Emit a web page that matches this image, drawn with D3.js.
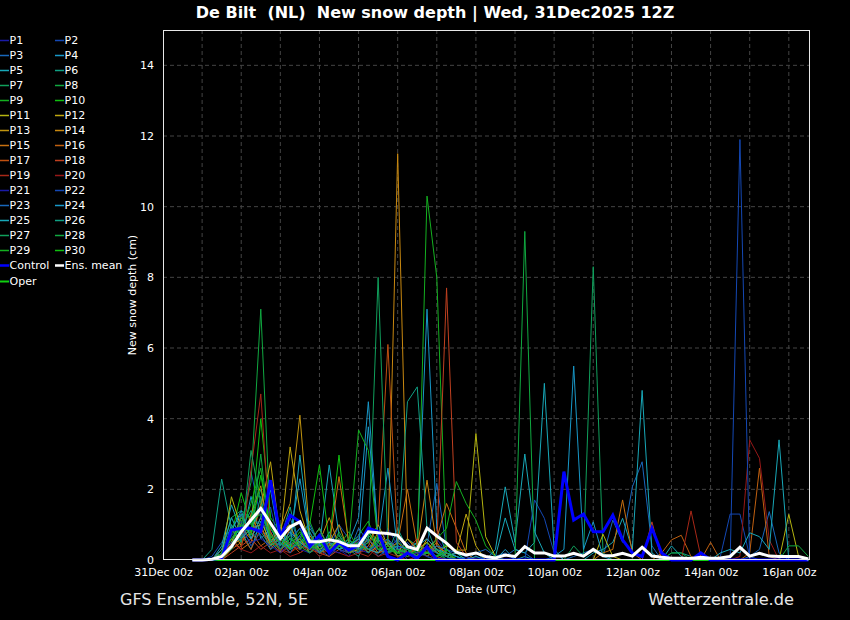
<!DOCTYPE html>
<html lang="en">
<head>
<meta charset="UTF-8">
<title>De Bilt New snow depth</title>
<script src="https://d3js.org/d3.v7.min.js"></script>
<style>
  html, body { margin: 0; padding: 0; background: #000; }
  svg { display: block; font-family: "DejaVu Sans", sans-serif; }
  .grid line { stroke: #444; stroke-dasharray: 4,3; }
  .legend text { fill: #fff; font-size: 11px; }
</style>
</head>
<body>
<script>
// forecast steps, hours after 31Dec 00z
const hours = [
  18, 24, 30, 36, 42, 48, 54, 60, 66, 72, 78, 84, 90, 96, 102, 108,
  114, 120, 126, 132, 138, 144, 150, 156, 162, 168, 174, 180, 186, 192, 198, 204,
  210, 216, 222, 228, 234, 240, 246, 252, 258, 264, 270, 276, 282, 288, 294, 300,
  306, 312, 318, 324, 330, 336, 342, 348, 354, 360, 366, 372, 378, 384, 390, 396
];

const xTickHours = [0, 48, 96, 144, 192, 240, 288, 336, 384];
const xTickLabels = ["31Dec 00z", "02Jan 00z", "04Jan 00z", "06Jan 00z", "08Jan 00z",
                     "10Jan 00z", "12Jan 00z", "14Jan 00z", "16Jan 00z"];
const yTicks = [0, 2, 4, 6, 8, 10, 12, 14];

// new snow depth (cm), members P1..P30
const p01 = [0,0,0,0.2,0.6,1.1,0.9,1.4, 0.8,0.3,0.6,0.9,0.4,0.2,0.5,0.3, 0.1,0.6,0.3,0.2,0.9,0.4,0,0.1, 0.3,0.6,0.2,0,0,0.1,0,0, 0,0,0,0,0,0,0,0, 0,0,0,0,0,0,0,0, 0,0,0,0,0,0,0,0, 0,0,0,0,0,0,0,0];
const p02 = [0,0,0.1,0.5,0.9,0.7,2.5,1.2, 0.6,1.0,0.4,0.7,0.2,0.5,0.3,1.0, 0.6,0.2,0.4,0.3,0.1,0,0.2,0.5, 0.2,0.1,0,0,0,0,0,0, 0,0,0,0,0,0,0,0, 0,0,0,0,0,0,0,0, 0,0,0,0,0,0,0.1,1.3, 1.3,0.1,0,0,0,0,0,0];
const p03 = [0,0,0,0.3,0.4,1.3,0.6,0.9, 0.5,0.2,1.2,0.4,0.8,0.3,0.1,0.4, 0.2,0.9,0.5,0.1,0.3,0.6,0.2,0, 0.4,2.17,0.3,0.1,0,0,0,0.1, 0.2,0,0,0,0,0,0,0.1, 0.2,0.3,0.1,1.13,0.5,2.07,2.78,0.4, 0,0,0,0,0,0,0,0, 0,0.1,0.3,1.37,0.2,0,0,0];
const p04 = [0,0,0,0.1,1.0,0.5,1.8,0.6, 0.9,0.4,0.7,2.3,0.6,0.2,0.8,0.3, 0.5,1.2,4.48,0.6,0.2,0.4,0.3,0.5, 7.1,0.9,0.2,0.1,0,0.2,0,0, 0.3,0,0.1,0,0,0,0,0, 0,0,0,0,0,0,0,0, 0,0,0,0,0,0,0,0, 0,0,0,0,0,0,0,0];
const p05 = [0,0,0,0.4,1.56,0.8,0.3,1.1, 0.5,0.9,0.3,0.6,0.2,0.4,2.69,0.7, 0.3,0.2,0.8,0.4,0.6,0.1,0.2,0.3, 0.1,0,0.2,0,0,0,0,0.3, 2.07,0.5,3.0,0.8,0.2,0,0,0, 0,0.2,0.3,0.5,1.18,0.3,4.8,0.2, 0,0,0,0,0,0,0,0, 0,0,0,0,0,0,0,0];
const p06 = [0,0,0.3,2.29,0.9,1.3,0.7,1.8, 0.4,0.6,1.5,0.3,0.9,0.5,0.2,0.6, 0.3,0.1,0.7,0.4,0.2,0.9,0.3,0.1, 0.2,0.4,0.1,0,0,0,0,0, 0,0,0,0,0,0,0,0, 0,0,0,0,0,0,0,0, 0,0.2,0.2,0.1,0,0,0,0, 0,0,0,0,0,0,0,0];
const p07 = [0,0,0,0.2,1.2,1.4,1.2,2.0, 0.7,0.3,0.5,0.9,0.2,0.4,0.7,0.3, 0.6,0.2,0.9,0.5,0.3,0.2,0.6,0.4, 0.1,0.3,0,0,0,0,0,0, 0,0,0,0,0,0,0,0.4, 0.1,8.3,0.2,0,0,0,0,0, 0,0,0,0,0,0,0,0, 0,0,0,0,0,0,0,0];
const p08 = [0,0,0,0.1,0.5,1.0,2.2,7.1, 0.9,0.5,0.3,0.6,1.1,0.4,0.2,0.8, 0.3,0.5,0.2,0.7,0.4,0.1,0.3,0.2, 0.5,0.2,0,0.1,0,0,0,0, 0,0,0,0,0,0,0,0, 0,0,0,0,0,0,0,0, 0,0,0,0,0,0,0,0, 0,0,0,0,0,0,0,0];
const p09 = [0,0,0,0,0.3,0.8,1.6,2.6, 0.6,1.0,0.4,0.5,0.3,0.7,0.2,0.4, 0.8,0.3,0.6,0.2,0.5,0.3,0.2,0.1, 10.3,8.0,0.2,0,0,0,0,0, 0,0,0,0,0,0,0,0, 0,0,0,0,0,0,0,0, 0,0,0,0,0,0,0,0, 0,0,0,0,0,0,0,0];
const p10 = [0,0,0,0.2,0.7,1.9,1.0,4.0, 1.2,0.8,0.6,0.4,1.0,2.69,0.5,2.97, 0.4,0.7,1.1,0.3,0.2,0.5,0.3,0.2, 0.3,0.1,0.5,0.2,0,0,0,0, 0,0,0,0,0,0,0,0, 0,0,0,0,0,0,0,0, 0,0,0,0,0,0,0,0, 0,0,0,0,0,0,0,0];
const p11 = [0,0,0,0.1,1.79,0.9,0.6,1.2, 0.4,0.8,1.0,0.3,0.6,0.2,0.4,0.5, 0.2,0.3,0.5,1.0,0.4,0.2,0.6,0.3, 0.5,0.2,0.4,0.28,0.28,3.58,0.66,0.1, 0,0,0,0,0,0,0,0, 0,0,0.73,0.1,0,0,0,0, 0,0,0,0,0,0,0,0, 0,0,0,0,0,1.29,0.1,0];
const p12 = [0,0,0,0.2,0.5,1.2,0.8,1.5, 2.78,0.6,3.2,1.4,0.5,0.9,0.3,0.6, 0.3,0.5,0.2,0.4,0.6,0.3,0.2,0.1, 0.6,0.3,0.1,0.2,1.3,0.4,0,0, 0,0,0,0,0,0,0,0, 0,0,0,0,0,0,0,0, 0,0,0,0,0,0,0,0, 0,0,0,0,0,0,0,0];
const p13 = [0,0,0,0.1,0.9,0.4,1.3,2.1, 0.5,0.9,1.6,4.1,0.7,0.3,0.5,1.0, 0.2,0.4,0.3,0.2,0.5,0.1,0.2,0.3, 0.2,0.5,0.1,0,0,0,0,0, 0,0,0,0,0,0,0,0, 0,0,0,0,0,0,0,0, 0,0,0,0,0,0,0,0, 0,0,0,0,0,0,0,0];
const p14 = [0,0,0,0,0.4,0.6,0.9,1.0, 0.3,0.7,0.4,0.6,0.2,0.5,1.2,0.4, 0.3,0.6,0.2,0.8,0.4,11.5,0.6,0.3, 2.26,0.4,0.2,0,0,0,0,0, 0,0,0,0,0,0,0,0, 0,0,0,0,0,0,0,0, 0,0,0,0,0,0,0,0, 0,0,0,0,0,0,0,0];
const p15 = [0,0,0,0.3,0.6,0.3,0.5,1.6, 0.8,0.2,0.9,0.5,0.3,0.7,0.4,2.36, 0.5,0.3,0.6,0.2,0.3,0.5,2.0,0.4, 0.3,0.6,1.6,0.9,0.2,0,0,0, 0,0,0,0,0,0,0,0, 0,0,0.2,0.3,1.7,0.2,0,0, 0,0,0,0,0,0,0,0, 0,0,0,0,0,0,0,0];
const p16 = [0,0,0,0,0.3,0.5,0.8,0.4, 0.6,0.3,0.5,0.2,0.4,0.2,0.3,0.5, 0.2,0.4,0.3,0.6,0.2,0.3,0.1,0.2, 0.4,0.2,0.1,0,0,0,0,0, 0,0,0,0,0,0,0,0, 0,0,0,0,0,0,0,0, 0.2,0.57,0.7,0.1,0,0.5,0,0, 0,0.2,2.6,0.1,0,0,0,0];
const p17 = [0,0,0,0.1,0.4,0.7,0.3,0.9, 0.4,0.6,0.2,0.5,0.3,0.2,0.4,0.6, 0.3,0.2,0.4,1.0,6.1,0.5,0.2,0.3, 0.1,0.4,0.2,0,0,0,0,0, 0,0,0,0,0,0,0,0, 0,0,0,0,0,0,0,0, 0,0,0,0,0,0,0,0, 0,0,0,0,0,0,0,0];
const p18 = [0,0,0,0,0.2,0.4,0.6,0.3, 0.5,0.2,0.4,0.3,0.6,0.2,0.1,0.3, 0.2,0.5,0.3,0.2,0.4,0.2,0.3,0.6, 0.2,0.4,7.7,0.5,0.1,0,0,0, 0,0,0,0,0,0,0,0, 0,0,0,0,0,0,0,1.08, 0,0,0,0,0,0,0,0, 0,0,0,0,0,0,0,0];
const p19 = [0,0,0,0.1,0.5,0.3,2.55,4.7, 0.6,0.3,0.2,0.4,0.3,0.5,0.2,0.4, 0.3,0.2,0.1,0.4,0.2,0.3,0.1,0.2, 0.3,0.1,0,0,0,0,0,0, 0,0,0,0,0,0,0,0, 0,0,0,0,0,0,0,0, 0,0,0,1.39,0.1,0,0,0, 0,0,0,0,0,0,0,0];
const p20 = [0,0,0,0,0.5,0.3,0.2,0.4, 0.2,0.3,0.1,0.2,0.4,0.1,0.3,0.2, 0.1,0.2,0.3,0.1,0.2,0.1,0,0.1, 0.2,0,0,0,0,0,0,0, 0,0,0,0,0,0,0,0, 0,0,0,0,0,0,0,0, 0,0,0,0,0,0,0,0, 0.1,3.4,2.88,0.57,0,0,0,0];
const p21 = [0,0,0,0.2,0.3,0.8,0.5,0.6, 0.4,0.2,0.5,0.3,0.2,0.6,0.3,0.2, 0.4,0.3,0.2,0.5,0.2,0.3,0.1,0.2, 0.1,0,0,0,0,0,0,0, 0,0,0,0,0,0,0,0, 0,0,0,0,0,0,0,0, 0,0,0,0,0,0,0,0, 0,0,0,0,0,0,0,0];
const p22 = [0,0,0,0.1,0.7,1.0,0.4,0.8, 1.5,0.3,0.6,0.9,0.4,0.2,0.5,0.3, 0.2,0.7,0.3,0.4,0.6,0.3,0.5,0.2, 0.3,0.2,0.1,0,0.1,0,0,0, 0,0,0,1.7,1.18,0.2,0,0, 0,0,0,0,0,0,0,0, 0,0,0,0,0,0,0,0, 11.9,0,0,0,0,0,0,0];
const p23 = [0,0,0,0.2,0.5,0.6,1.1,0.7, 0.3,0.5,0.2,0.7,1.0,0.4,0.2,0.5, 0.3,0.2,0.6,0.3,0.2,0.4,0.3,0.1, 0.2,0.4,0.3,0.2,0.1,0.2,0.3,0.1, 0.1,0.3,0.2,0,0,0,0,0, 0,0,0,0,0,0,0,0, 0,0,0,0,0,0,0,0, 0,0,0,0,0,0,0,0];
const p24 = [0,0,0,0.1,0.8,1.4,0.6,1.2, 1.98,0.4,0.8,0.5,0.3,0.6,0.2,0.4, 0.5,0.3,3.77,0.5,2.6,0.3,0.2,0.4, 0.6,0.3,0.2,0.1,0,0,0,0, 0,0,0,0,0,0.1,0.3,5.49, 0.3,1.08,0.1,0,0,0,0,0, 0,0,0,0,0,0,0,0, 0,0,0,0,0,0,0,0];
const p25 = [0,0,0,0.3,1.2,0.6,0.9,1.5, 0.5,0.7,0.3,2.97,0.6,0.4,0.5,0.3, 0.4,0.6,0.3,0.2,0.5,0.2,0.4,0.3, 0.2,0.3,0.1,0.2,0,0.1,0,0.1, 1.19,0.3,0.2,0.5,5.0,0.3,0,0, 0,0,0,0,0,0,0,0, 0,0.4,0.1,0,0,0,0.2,0.3, 0.2,0.77,0.66,0.3,3.4,0,0,0];
const p26 = [0,0,0,0.1,0.6,0.9,1.4,0.8, 0.4,0.6,0.3,0.5,0.8,0.2,0.4,0.6, 0.3,0.5,0.2,0.6,0.3,0.4,4.48,4.9, 0.9,0.2,0.1,0,0,0,0,0, 0,0,0,0,0,0,0,0, 0,0,0,0,0,0,0,0, 0,0,0,0,0,0,0,0, 0,0,0,0,0,0,0,0];
const p27 = [0,0,0,0.2,0.9,0.5,3.1,1.6, 0.6,0.4,0.7,0.3,0.5,0.9,0.3,0.4, 0.6,0.3,0.5,8.0,0.4,0.2,0.3,0.1, 0.2,0.3,0.1,0,0,0,0,0, 0,0,0,0,0,0,0,0, 0,0,0,0,0,0,0,0, 0,0,0,0,0,0,0,0, 0,0,0,0,0,0,0,0];
const p28 = [0,0,0,0,0.4,1.2,0.8,3.0, 0.5,0.3,0.6,0.4,0.2,0.5,0.3,0.7, 0.2,0.4,0.3,0.5,0.2,0.3,0.2,0.4, 0.3,0.1,0.2,0,0,0,0,0, 0,0,9.3,0,0,0,0,0, 0,0,0,0,0,0,0,0, 0,0.2,0.2,0,0,0,0,0, 0,0,0,0,0,0.4,0.4,0.1];
const p29 = [0,0,0,0.1,0.3,0.9,1.1,1.3, 0.7,0.5,0.3,0.6,0.4,0.3,0.6,0.5, 0.4,3.68,3.1,0.5,0.3,0.2,0.4,0.3, 0.2,0.6,0.9,2.22,1.6,1.13,0.4,0.1, 0,0,0,0,0,0,0,0, 0,0,0,0,0,0,0,0, 0,0,0,0,0,0,0,0, 0,0,0,0,0,0,0,0];
const p30 = [0,0,0,0.2,0.6,1.0,0.7,2.4, 0.9,0.6,0.4,0.8,0.3,0.5,0.2,0.4, 0.3,0.5,0.8,0.3,0.4,0.2,0.1,0.3, 0.2,0.1,0.3,0,0,0,0,0, 0,0,0,0,0,0,0,0, 0,0,0,0,0,0,0,0, 0,0,0,0,0,0,0,0, 0,0,0,0,0,0,0,0];

const control = [0,0,0.02,0.05,0.85,0.9,0.9,0.8, 2.26,0.66,1.27,1.08,0.38,0.7,0.2,0.5, 0.28,0.42,0.9,0.8,0.1,0,0.2,0.05, 0.38,0,0,0,0,0,0,0, 0,0,0,0,0,0,2.5,1.13, 1.3,0.8,0.8,1.27,0.57,0.2,0.1,0.9, 0.2,0,0,0,0.2,0,0,0, 0,0,0,0,0,0,0,0];
const ensMean = [0,0,0.02,0.1,0.38,0.8,1.13,1.46, 1.04,0.61,0.94,1.08,0.52,0.52,0.57,0.52, 0.4,0.4,0.8,0.77,0.75,0.7,0.38,0.3, 0.9,0.68,0.48,0.22,0.14,0.2,0.1,0.06, 0.14,0.1,0.38,0.2,0.2,0.11,0.11,0.19, 0.11,0.3,0.12,0.12,0.19,0.11,0.36,0.11, 0.08,0.05,0.05,0.04,0.08,0.05,0.06,0.1, 0.36,0.11,0.19,0.11,0.1,0.1,0.1,0.03];
const oper = [0,0,0,0,0,0,0,0, 0,0,0,0,0,0,0,0, 0,0,0,0,0,0,0,0, 0,0,0,0,0,0,0,0, 0,0,0,0,0,0,0,0, 0,0,0,0,0,0,0,0, 0,0,0,0,0,0,0,0, 0,0,0,0,0,0,0,0];

const members = [p01,p02,p03,p04,p05,p06,p07,p08,p09,p10,p11,p12,p13,p14,p15,
                 p16,p17,p18,p19,p20,p21,p22,p23,p24,p25,p26,p27,p28,p29,p30];
const memberNames = members.map((d, i) => "P" + (i + 1));

// colour ramp for P1..P20, P21..P30 reuse the first ten
const ramp = ["#1a1aa8","#1448b4","#1868bc","#1898c8","#18a8b8","#10a084","#10a05c","#10a840","#14b020","#10c010",
              "#b4b410","#c0a810","#c09410","#c88810","#c87010","#c06010","#c05010","#c04020","#a82818","#961818"];
const memberColor = i => ramp[i % 20];

const width = 850, height = 620;
const plot = {left: 163, right: 810, top: 30, bottom: 560};

const svg = d3.select("body").append("svg")
    .attr("width", width)
    .attr("height", height);

svg.append("rect").attr("width", width).attr("height", height).attr("fill", "#000");

const x = d3.scaleLinear().domain([0, 397]).range([plot.left, plot.right]);
const y = d3.scaleLinear().domain([0, 15]).range([plot.bottom, plot.top]);

// grid: one vertical line per day, one horizontal per 2 cm
const grid = svg.append("g").attr("class", "grid");
grid.selectAll("line.v")
    .data(d3.range(24, 397, 24))
    .enter().append("line")
    .attr("x1", d => x(d)).attr("x2", d => x(d))
    .attr("y1", plot.top).attr("y2", plot.bottom);
grid.selectAll("line.h")
    .data(yTicks.slice(1))
    .enter().append("line")
    .attr("x1", plot.left).attr("x2", plot.right)
    .attr("y1", d => y(d)).attr("y2", d => y(d));

// axes (labels only)
const xAxis = d3.axisBottom(x).tickValues(xTickHours)
    .tickFormat((d, i) => xTickLabels[i]).tickSize(0).tickPadding(8);
svg.append("g").attr("transform", "translate(0," + plot.bottom + ")").call(xAxis)
    .call(g => g.select(".domain").remove())
    .selectAll("text").attr("fill", "#fff").attr("font-size", 11).attr("font-family", "DejaVu Sans");

const yAxis = d3.axisLeft(y).tickValues(yTicks).tickSize(0).tickPadding(9);
svg.append("g").attr("transform", "translate(" + plot.left + ",0)").call(yAxis)
    .call(g => g.select(".domain").remove())
    .selectAll("text").attr("fill", "#fff").attr("font-size", 11).attr("font-family", "DejaVu Sans");

const line = d3.line()
    .x((d, i) => x(hours[i]))
    .y(d => y(d));

const lines = svg.append("g")
    .attr("fill", "none")
    .attr("stroke-linejoin", "miter");

lines.selectAll("path.member")
    .data(members)
    .enter().append("path")
    .attr("class", "member")
    .attr("d", line)
    .attr("stroke", (d, i) => memberColor(i))
    .attr("stroke-width", 1);

lines.append("path").attr("d", line(oper)).attr("stroke", "#10d010").attr("stroke-width", 2);
lines.append("path").attr("d", line(control)).attr("stroke", "#0000ff").attr("stroke-width", 3);
lines.append("path").attr("d", line(ensMean)).attr("stroke", "#ffffff").attr("stroke-width", 3);

// frame
svg.append("rect")
    .attr("x", plot.left + 0.5).attr("y", plot.top + 0.5)
    .attr("width", plot.right - plot.left - 1).attr("height", plot.bottom - plot.top - 1)
    .attr("fill", "none").attr("stroke", "#e8e8e8").attr("stroke-width", 1);

// legend
const legendItems = memberNames.map((n, i) => ({name: n, color: memberColor(i), w: 1.5}))
    .concat([{name: "Control", color: "#0000ff", w: 2.5},
             {name: "Ens. mean", color: "#ffffff", w: 2.5},
             {name: "Oper", color: "#10d010", w: 2}]);

const legend = svg.append("g").attr("class", "legend");
const item = legend.selectAll("g")
    .data(legendItems)
    .enter().append("g")
    .attr("transform", (d, i) => "translate(" + (i % 2 ? 55 : 0) + "," + (40.5 + 15 * Math.floor(i / 2) + (i === 32 ? 1 : 0)) + ")");
item.append("line")
    .attr("x1", 0).attr("x2", 9)
    .attr("stroke", d => d.color).attr("stroke-width", d => d.w);
item.append("text")
    .attr("x", 9.5).attr("dy", "0.36em")
    .text(d => d.name);

// titles
svg.append("text")
    .attr("x", 435).attr("y", 18)
    .attr("text-anchor", "middle")
    .attr("fill", "#fff").attr("font-size", 16).attr("font-weight", "bold")
    .style("white-space", "pre")
    .text("De Bilt  (NL)  New snow depth | Wed, 31Dec2025 12Z");

svg.append("text")
    .attr("transform", "translate(136,295) rotate(-90)")
    .attr("text-anchor", "middle")
    .attr("fill", "#fff").attr("font-size", 11)
    .text("New snow depth (cm)");

svg.append("text")
    .attr("x", 486).attr("y", 593)
    .attr("text-anchor", "middle")
    .attr("fill", "#fff").attr("font-size", 11)
    .text("Date (UTC)");

svg.append("text")
    .attr("x", 120).attr("y", 605)
    .attr("fill", "#e6e6e6").attr("font-size", 16)
    .text("GFS Ensemble, 52N, 5E");

svg.append("text")
    .attr("x", 794).attr("y", 605)
    .attr("text-anchor", "end")
    .attr("fill", "#e6e6e6").attr("font-size", 16.2)
    .text("Wetterzentrale.de");
</script>
</body>
</html>
